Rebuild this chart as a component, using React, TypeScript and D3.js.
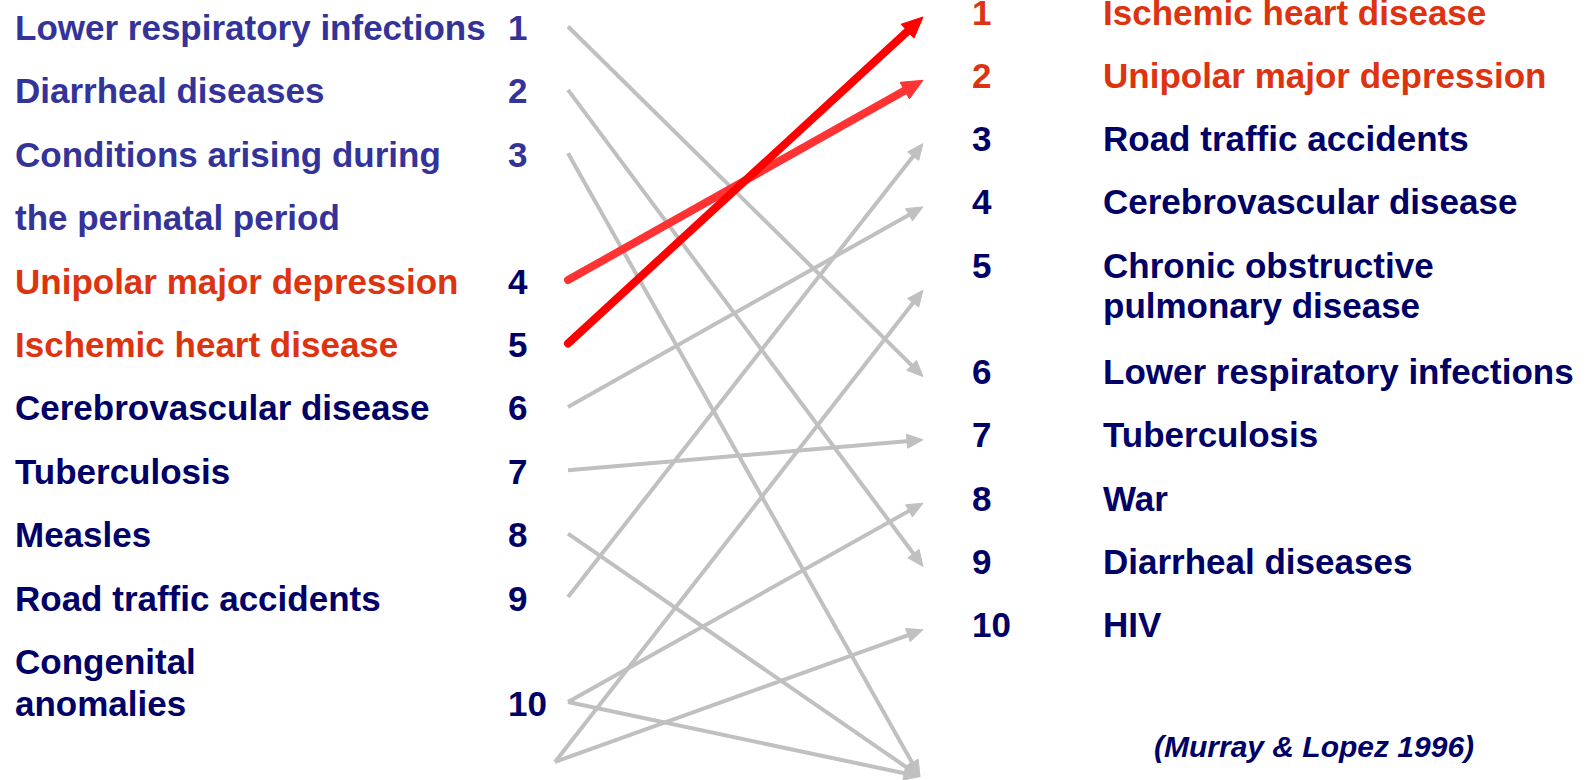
import React from "react";
import * as d3 from "d3";

// ---- Data ----
const leftCauses: string[][] = [
  ["Lower respiratory infections"],
  ["Diarrheal diseases"],
  ["Conditions arising during", "the perinatal period"],
  ["Unipolar major depression"],
  ["Ischemic heart disease"],
  ["Cerebrovascular disease"],
  ["Tuberculosis"],
  ["Measles"],
  ["Road traffic accidents"],
  ["Congenital", "anomalies"],
];
const leftRanks = [1, 2, 3, 4, 5, 6, 7, 8, 9, 10];
const leftTone = ["blue", "blue", "blue", "red", "red", "navy", "navy", "navy", "navy", "navy"];
const leftNumberTone = ["blue", "blue", "blue", "navy", "navy", "navy", "navy", "navy", "navy", "navy"];

const rightCauses: string[][] = [
  ["Ischemic heart disease"],
  ["Unipolar major depression"],
  ["Road traffic accidents"],
  ["Cerebrovascular disease"],
  ["Chronic obstructive", "pulmonary disease"],
  ["Lower respiratory infections"],
  ["Tuberculosis"],
  ["War"],
  ["Diarrheal diseases"],
  ["HIV"],
];
const rightRanks = [1, 2, 3, 4, 5, 6, 7, 8, 9, 10];
const rightTone = ["red", "red", "navy", "navy", "navy", "navy", "navy", "navy", "navy", "navy"];

// rank 11 = outside the top ten
const linkFrom = [1, 2, 3, 8, 10, 6, 7, 9, 10, 11, 11, 4, 5];
const linkTo = [6, 9, 11, 11, 8, 4, 7, 3, 11, 5, 10, 2, 1];
const linkTone = ["gray", "gray", "gray", "gray", "gray", "gray", "gray", "gray", "gray", "gray", "gray", "red2", "red"];

const citation = "(Murray & Lopez 1996)";

const palette: Record<string, string> = {
  blue: "#333399",
  navy: "#000066",
  red: "#dd3311",
  gray: "#c0c0c0",
  red2: "#ff3333",
  redArrow: "#ff0000",
};

const W = 1590;
const H = 780;
const FONT = "'Liberation Sans', Arial, Helvetica, sans-serif";
const FS = 35;

export default function App() {
  const leftRow = d3.scaleLinear().domain([0, 10]).range([40, 674]);
  const rightRow = d3.scaleLinear().domain([0, 10]).range([24.5, 657.5]);

  // left layout
  let s = 0;
  const leftLayout = leftCauses.map((lines, i) => {
    const slot = s;
    const wrapFull = i < leftCauses.length - 1 && lines.length > 1;
    s += wrapFull ? lines.length : 1;
    const lineYs = lines.map((_, k) => (wrapFull ? leftRow(slot + k) : leftRow(slot) + k * 41.5));
    const numberY = wrapFull ? lineYs[0] : lineYs[lines.length - 1];
    return { lines, lineYs, numberY, rank: leftRanks[i], anchorY: numberY - 13.5 };
  });

  let r = 0;
  const rightLayout = rightCauses.map((lines, i) => {
    const slot = r;
    r += 1 + (lines.length - 1) * 0.68;
    const lineYs = lines.map((_, k) => rightRow(slot) + k * 40);
    const anchorY = (lineYs[0] + lineYs[lineYs.length - 1]) / 2 - 7.5;
    return { lines, lineYs, numberY: lineYs[0], rank: rightRanks[i], anchorY };
  });

  const leftAnchor = (rank: number) =>
    rank <= 10
      ? { x: 568, y: leftLayout[rank - 1].anchorY }
      : { x: 555, y: leftRow(11.6) - 13.5 };
  const rightAnchor = (rank: number) =>
    rank <= 10
      ? { x: 923, y: rightLayout[rank - 1].anchorY }
      : { x: 920, y: rightRow(12) - 7.5 };

  const arrows = linkFrom.map((f, i) => {
    const a = leftAnchor(f);
    const b = rightAnchor(linkTo[i]);
    const tone = linkTone[i];
    const isRed = tone !== "gray";
    const L = isRed ? 21 : 16;
    const hw = isRed ? 9.5 : 7;
    const dx = b.x - a.x;
    const dy = b.y - a.y;
    const len = Math.hypot(dx, dy);
    const ux = dx / len;
    const uy = dy / len;
    const nx = -uy;
    const ny = ux;
    const bx = b.x - ux * L;
    const by = b.y - uy * L;
    const head = [
      [b.x, b.y],
      [bx + nx * hw, by + ny * hw],
      [bx - nx * hw, by - ny * hw],
    ];
    const color = tone === "red" ? palette.redArrow : palette[tone];
    return {
      key: i,
      x1: a.x,
      y1: a.y,
      x2: b.x - ux * L * 0.7,
      y2: b.y - uy * L * 0.7,
      head: d3.line()(head as [number, number][]) + "Z",
      color,
      width: isRed ? 8 : 4,
      isRed,
    };
  });
  const ordered = [...arrows.filter((a) => !a.isRed), ...arrows.filter((a) => a.isRed)];

  return (
    <svg
      width={W}
      height={H}
      style={{ position: "fixed", left: 0, top: 0, background: "#fff" }}
      fontFamily={FONT}
      fontWeight="bold"
    >
      <rect width={W} height={H} fill="#fff" />
      {leftLayout.map((d, i) => (
        <g key={"l" + i}>
          {d.lines.map((line, k) => (
            <text key={k} x={15} y={d.lineYs[k]} fontSize={FS} fill={palette[leftTone[i]]}>
              {line}
            </text>
          ))}
          <text x={508} y={d.numberY} fontSize={FS} fill={palette[leftNumberTone[i]]}>
            {d.rank}
          </text>
        </g>
      ))}
      {rightLayout.map((d, i) => (
        <g key={"r" + i}>
          <text x={972} y={d.numberY} fontSize={FS} fill={palette[rightTone[i]]}>
            {d.rank}
          </text>
          {d.lines.map((line, k) => (
            <text key={k} x={1103} y={d.lineYs[k]} fontSize={FS} fill={palette[rightTone[i]]}>
              {line}
            </text>
          ))}
        </g>
      ))}
      {ordered.map((a) => (
        <g key={"a" + a.key}>
          <line
            x1={a.x1}
            y1={a.y1}
            x2={a.x2}
            y2={a.y2}
            stroke={a.color}
            strokeWidth={a.width}
            strokeLinecap={a.isRed ? "round" : "butt"}
          />
          <path d={a.head} fill={a.color} stroke={a.color} strokeWidth={1} strokeLinejoin="miter" />
        </g>
      ))}
      <text x={1154} y={757} fontSize={30} fontStyle="italic" fill={palette.navy}>
        {citation}
      </text>
    </svg>
  );
}
